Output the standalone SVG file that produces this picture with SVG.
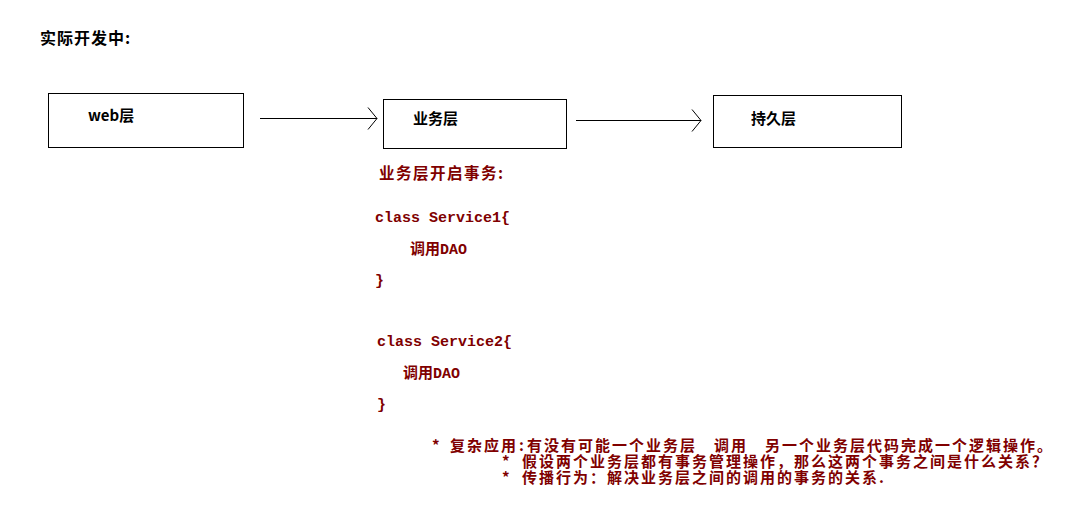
<svg xmlns="http://www.w3.org/2000/svg" width="1066" height="510" viewBox="0 0 1066 510">
<defs>
<marker id="arr" markerWidth="12" markerHeight="24" refX="10" refY="12" orient="auto" markerUnits="userSpaceOnUse">
<path d="M1,1 L10,12 L1,23" fill="none" stroke="#000" stroke-width="1"/>
</marker>
</defs>
<style>
.box{fill:#fff;stroke:#000;stroke-width:1}
.lbl{font-family:"Noto Sans CJK SC","Liberation Sans",sans-serif;font-size:15px;font-weight:bold;fill:#000}
.red{font-family:"Liberation Mono","Noto Sans CJK SC",monospace;font-size:15px;font-weight:bold;fill:#800000}
.cn{font-family:"Noto Sans CJK SC","Liberation Mono",sans-serif;font-size:15px;font-weight:bold;fill:#800000;letter-spacing:2px}
.conn{stroke:#000;stroke-width:1;fill:none}
</style>
<rect width="1066" height="510" fill="#fff"/>
<text class="lbl" x="40" y="44" style="font-size:16px;letter-spacing:1px">实际开发中:</text>
<g id="web">
<rect class="box" x="48.5" y="93.5" width="195" height="54"/>
<text class="lbl" x="88" y="121">web层</text>
</g>
<g id="service">
<rect class="box" x="383.5" y="99.5" width="183" height="49"/>
<text class="lbl" x="413" y="124">业务层</text>
</g>
<g id="dao">
<rect class="box" x="713.5" y="95.5" width="188" height="52"/>
<text class="lbl" x="751" y="124">持久层</text>
</g>
<g id="connectors">
<line class="conn" x1="260" y1="118.5" x2="377" y2="118.5" marker-end="url(#arr)"/>
<line class="conn" x1="576" y1="120.5" x2="701" y2="120.5" marker-end="url(#arr)"/>
</g>
<g id="notes">
<text class="cn" x="379" y="179" style="font-size:15.5px;letter-spacing:1.5px">业务层开启事务:</text>
<text class="red" x="375" y="222">class Service1{</text>
<text class="red" x="410" y="254">调用DAO</text>
<text class="red" x="375" y="285">}</text>
<text class="red" x="377" y="346">class Service2{</text>
<text class="red" x="403" y="378">调用DAO</text>
<text class="red" x="377" y="409">}</text>
<text class="cn" y="451"><tspan x="432">*</tspan><tspan x="450">复杂应用</tspan><tspan x="519">:</tspan><tspan x="527">有没有可能一个业务层</tspan><tspan x="714">调用</tspan><tspan x="765">另一个业务层代码完成一个逻辑操作。</tspan></text>
<text class="cn" y="467"><tspan x="502">*</tspan><tspan x="522">假设两个业务层都有事务管理操作，那么这两个事务之间是什么关系？</tspan></text>
<text class="cn" y="483"><tspan x="502">*</tspan><tspan x="522">传播行为：解决业务层之间的调用的事务的关系.</tspan></text>
</g>
</svg>
